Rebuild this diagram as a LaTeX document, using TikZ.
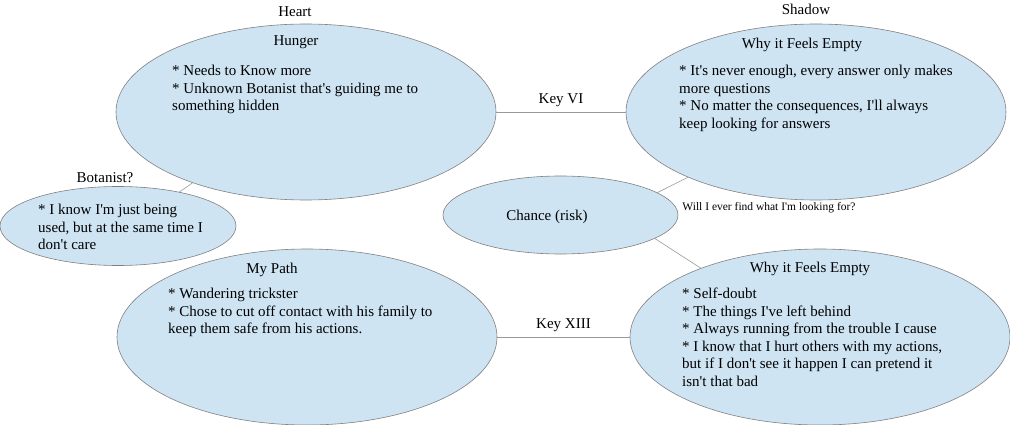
\documentclass[tikz,border=0pt]{standalone}
\usepackage{fontspec}
\setmainfont{Liberation Serif}[Ligatures=TeXOff]
\usetikzlibrary{shapes.geometric,positioning,calc}
\definecolor{blobfill}{RGB}{207,228,243}
\definecolor{blobline}{RGB}{128,128,128}
\begin{document}
\begin{tikzpicture}[
            x=1pt, y=-1pt,
            every node/.style={font=\fontsize{15}{17.5}\selectfont, inner sep=0pt},
            blob/.style={draw=blobline, fill=blobfill, ellipse, line width=0.6pt},
            body/.style={anchor=north west, align=left},
            link/.style={draw=blobline!80, line width=0.6pt},
        ]
            \useasboundingbox (0,0) rectangle (1010,425);
            % ellipses
            \node[blob, minimum width=380, minimum height=176] (hunger) at (306,112) {};
            \node[blob, minimum width=380, minimum height=176] (shadow) at (816,112) {};
            \node[blob, minimum width=236, minimum height=79] (botanist) at (118,226) {};
            \node[blob, minimum width=235, minimum height=78] (chance) at (560.5,215) {};
            \node[blob, minimum width=380, minimum height=176] (path) at (307,337) {};
            \node[blob, minimum width=380, minimum height=176] (empty) at (820,337) {};
            % connectors
            \draw[link] (hunger.east) -- node[above=5pt]{Key VI} (shadow.west);
            \draw[link] (path.east) -- node[above=5pt]{Key XIII} (empty.west);
            \draw[link] (hunger.212) -- (botanist.29);
            \draw[link] (chance.13) -- (shadow.207);
            \draw[link] (chance.-14.5) -- (empty.150);
            % texts
            \node at (295,12) {Heart};
            \node at (806,9) {Shadow};
            \node at (105,178) {Botanist?};
            \node at (296,42) {Hunger};
            \node[body] at (172,65) {* Needs to Know more\\* Unknown Botanist that's guiding me to\\something hidden};
            \node at (802,45) {Why it Feels Empty};
            \node[body] at (679,65) {* It's never enough, every answer only makes\\more questions\\* No matter the consequences, I'll always\\keep looking for answers};
            \node[body] at (38,204) {* I know I'm just being\\used, but at the same time I\\don't care};
            \node at (547,217) {Chance (risk)};
            \node[font=\fontsize{11.5}{13}\selectfont] at (769,208) {Will I ever find what I'm looking for?};
            \node at (272,270) {My Path};
            \node[body] at (168,288) {* Wandering trickster\\* Chose to cut off contact with his family to\\keep them safe from his actions.};
            \node at (810,269) {Why it Feels Empty};
            \node[body] at (682,288) {* Self-doubt\\* The things I've left behind\\* Always running from the trouble I cause\\* I know that I hurt others with my actions,\\but if I don't see it happen I can pretend it\\isn't that bad};
        \end{tikzpicture}
\end{document}
